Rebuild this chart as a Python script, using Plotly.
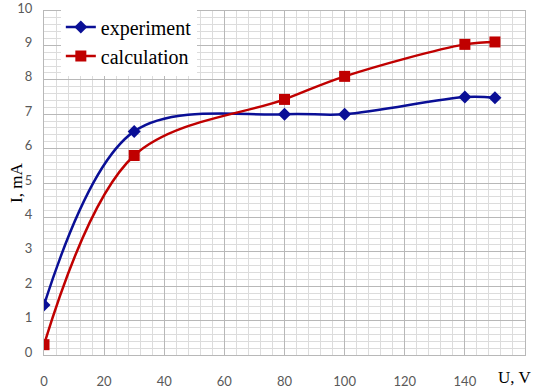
import plotly.graph_objects as go

u_values = [0, 30, 80, 100, 140, 150]
experiment = [1.45, 6.5, 7.0, 7.0, 7.5, 7.48]
calculation = [0.3, 5.8, 7.43, 8.1, 9.03, 9.1]
x_ticks = [0, 20, 40, 60, 80, 100, 120, 140]
y_ticks = [0, 1, 2, 3, 4, 5, 6, 7, 8, 9, 10]

fig = go.Figure()
fig.add_trace(go.Scatter(
    x=u_values, y=experiment, name="experiment", mode="lines+markers",
    line=dict(color="#0a0f96", width=2.5, shape="spline", smoothing=1.0),
    marker=dict(symbol="diamond", size=10, color="#0a0f96"),
))
fig.add_trace(go.Scatter(
    x=u_values, y=calculation, name="calculation", mode="lines+markers",
    line=dict(color="#c00000", width=2.5, shape="spline", smoothing=1.0),
    marker=dict(symbol="square", size=11, color="#c00000"),
))

tickfont = dict(family="Lato, Open Sans, sans-serif", size=13, color="#595959")
fig.update_layout(
    width=533, height=390,
    margin=dict(l=44, r=8, t=11, b=35),
    paper_bgcolor="white", plot_bgcolor="white",
    showlegend=True,
    legend=dict(x=0.035, y=1.01, xanchor="left", yanchor="top",
                bgcolor="white", borderwidth=0,
                font=dict(family="Liberation Serif", size=20, color="black"),
                tracegroupgap=0, itemwidth=30),
    xaxis=dict(range=[0, 160], tickmode="array", tickvals=x_ticks,
               ticktext=[str(v) for v in x_ticks], automargin=False,
               showgrid=True, gridcolor="#b8b8b8", gridwidth=1,
               minor=dict(dtick=4, showgrid=True, gridcolor="#dcdcdc", gridwidth=1),
               showline=True, linecolor="#b8b8b8", mirror=True, zeroline=False,
               tickfont=tickfont, ticks="", ticklabelstandoff=14),
    yaxis=dict(range=[0, 10], tickmode="array", tickvals=y_ticks, automargin=False,
               showgrid=True, gridcolor="#b8b8b8", gridwidth=1,
               minor=dict(dtick=0.2, showgrid=True, gridcolor="#dcdcdc", gridwidth=1),
               showline=True, linecolor="#b8b8b8", mirror=True, zeroline=False,
               tickfont=tickfont, ticks="", ticklabelstandoff=8,
               ticklabelshift=-3, ticklabeloverflow="allow"),
    annotations=[
        dict(text="U, V", xref="paper", yref="paper", x=(514 - 44) / 481, y=-(378 - 355) / 344,
             xanchor="center", yanchor="middle", showarrow=False,
             font=dict(family="Liberation Serif", size=17, color="black")),
        dict(text="I, mA", xref="paper", yref="paper", x=-(44 - 16) / 481, y=(355 - 183) / 344,
             xanchor="center", yanchor="middle", showarrow=False, textangle=-90,
             font=dict(family="Liberation Serif", size=17, color="black")),
    ],
)

fig.write_html("out.html", config={"displayModeBar": False},
               post_script="document.body.style.margin='0';document.body.style.overflow='hidden';")
